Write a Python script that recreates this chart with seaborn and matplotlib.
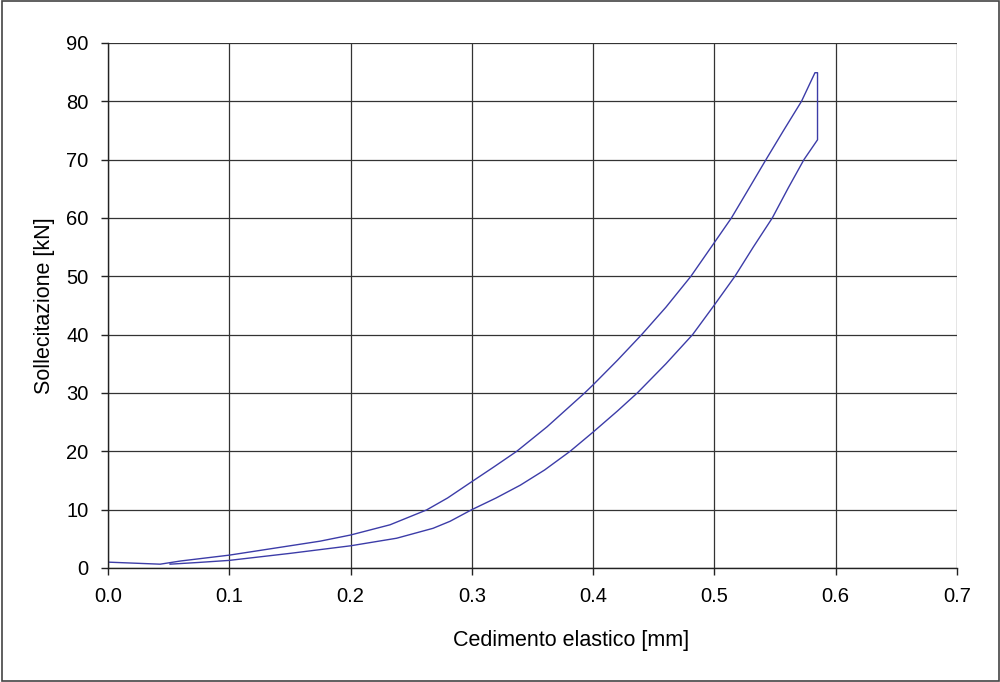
import matplotlib
matplotlib.use("Agg")
import matplotlib.pyplot as plt
import seaborn as sns
import pandas as pd
from matplotlib.patches import Rectangle

# path: short start segment, upper branch to the peak
start_x = [0.0, 0.043]
start_y = [1.0, 0.65]

upper_x = [0.043, 0.06, 0.08, 0.1, 0.125, 0.15, 0.175, 0.2, 0.2325, 0.2627,
           0.28, 0.3, 0.318, 0.337, 0.362, 0.393, 0.4, 0.42, 0.44, 0.46,
           0.4806, 0.5, 0.514, 0.528, 0.5425, 0.557, 0.5718, 0.5829, 0.585]
upper_y = [0.65, 1.2, 1.7, 2.2, 3.0, 3.8, 4.6, 5.65, 7.4, 9.95,
           12.0, 14.8, 17.3, 20.0, 24.2, 30.0, 31.4, 35.6, 40.0, 44.7,
           50.0, 55.8, 60.0, 64.9, 70.0, 75.0, 80.0, 84.9, 84.9]

# vertical drop at the peak, then the lower branch back down
lower_x = [0.585, 0.5738, 0.561, 0.5477, 0.532, 0.5169, 0.5, 0.482, 0.46,
           0.4364, 0.42, 0.4, 0.381, 0.36, 0.34, 0.32, 0.3, 0.282, 0.268,
           0.238, 0.2, 0.15, 0.1, 0.075, 0.051]
lower_y = [73.4, 70.0, 65.2, 60.0, 55.0, 50.0, 45.1, 40.0, 35.0,
           30.0, 26.9, 23.3, 20.0, 16.8, 14.2, 12.0, 10.0, 8.0, 6.8,
           5.1, 3.8, 2.5, 1.3, 0.95, 0.65]

x_ticks = [0.0, 0.1, 0.2, 0.3, 0.4, 0.5, 0.6, 0.7]
y_ticks = [0, 10, 20, 30, 40, 50, 60, 70, 80, 90]

df = pd.DataFrame({
    "x": start_x + upper_x + lower_x,
    "y": start_y + upper_y + lower_y,
})

sns.set_style("white")
plt.rcParams["font.family"] = ["Liberation Sans", "DejaVu Sans"]

fig = plt.figure(figsize=(10, 6.82), dpi=100)
ax = fig.add_axes([0.108, 0.1672, 0.849, 0.7698])

sns.lineplot(data=df, x="x", y="y", sort=False, estimator=None,
             color="#3c3ca8", linewidth=1.0, ax=ax)

ax.set_xlim(0, 0.7)
ax.set_ylim(0, 90)
ax.set_xticks(x_ticks)
ax.set_xticklabels([f"{v:.1f}" for v in x_ticks])
ax.set_yticks(y_ticks)
ax.grid(True, color="#333333", linewidth=0.9)
ax.set_axisbelow(True)

for side in ["top", "right"]:
    ax.spines[side].set_visible(False)
for side in ["left", "bottom"]:
    ax.spines[side].set_color("#222222")
    ax.spines[side].set_linewidth(1.0)

ax.tick_params(axis="both", direction="out", length=5, width=1, color="#222222",
               labelsize=14.5, labelcolor="black", pad=9, bottom=True, left=True)
ax.set_xlabel("Cedimento elastico [mm]", fontsize=15.5, color="black")
ax.set_ylabel("Sollecitazione [kN]", fontsize=15.5, color="black")
ax.xaxis.set_label_coords(0.545, -0.118)
ax.yaxis.set_label_coords(-0.062, 0.5)

fig.patches.append(Rectangle((0.0015, 0.002), 0.997, 0.996, transform=fig.transFigure,
                             fill=False, edgecolor="#444444", linewidth=1.2))

fig.savefig("out.png", dpi=100, facecolor="white")
